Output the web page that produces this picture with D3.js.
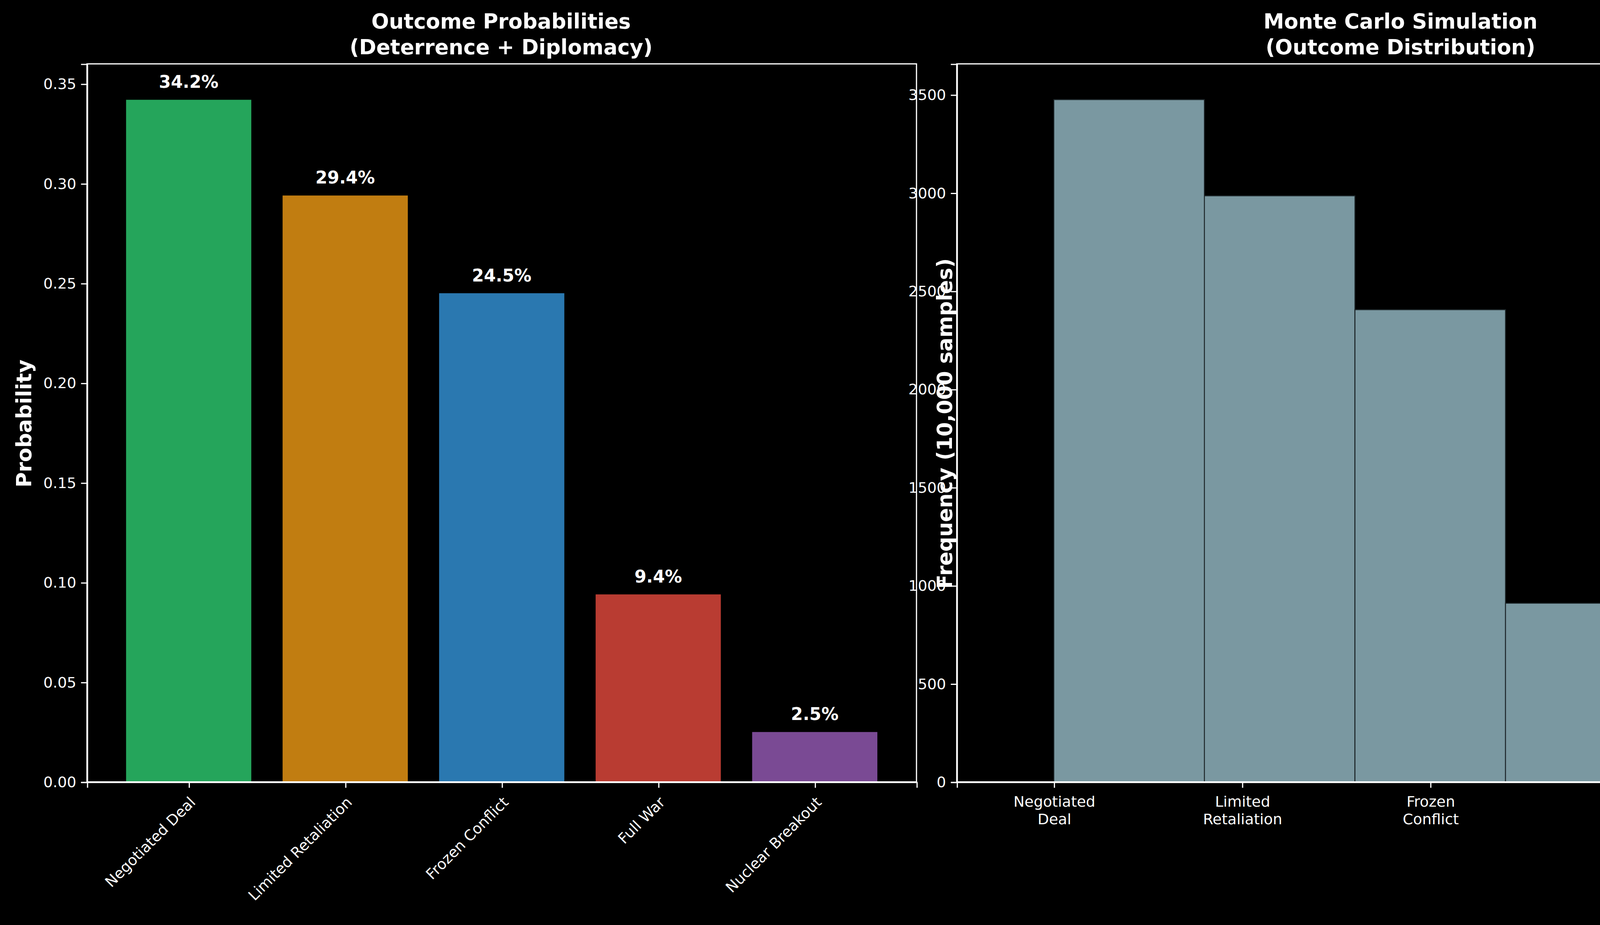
<!DOCTYPE html>
<html><head><meta charset="utf-8">
<script src="https://cdn.jsdelivr.net/npm/d3@7"></script>
<style>body{margin:0;background:#000;overflow:hidden}svg{display:block}text{font-family:"DejaVu Sans",sans-serif;fill:#fff}</style>
</head><body>
<script>
const outcomes = ["Negotiated Deal", "Limited Retaliation", "Frozen Conflict", "Full War", "Nuclear Breakout"];
const probs = [0.342, 0.294, 0.245, 0.094, 0.025];
const barColors = ["#25a55b", "#c17d11", "#2a78b0", "#b93c32", "#7a4a94"];
const counts = [3475, 2985, 2405, 910, 225];
const binEdges = [0, 0.8, 1.6, 2.4, 3.2, 4];
const probTicks = [0, 0.05, 0.10, 0.15, 0.20, 0.25, 0.30, 0.35];
const freqTicks = [0, 500, 1000, 1500, 2000, 2500, 3000, 3500];

const svg = d3.select("body").append("svg")
  .attr("width", 4753).attr("height", 2369)
  .attr("viewBox", "0 0 1568 782");
svg.append("rect").attr("width", 1568).attr("height", 782).attr("fill", "#000");

const plotTop = 54, plotBottom = 661;
function styleAxis(g) {
  g.selectAll("path,line").attr("stroke", "#fff");
  g.selectAll("text").attr("font-size", 12.5).attr("fill", "#fff").attr("font-family", "DejaVu Sans");
}

// ---- left: probabilities
const x1 = d3.scaleLinear().domain([-0.65, 4.65]).range([73, 774]);
const y1 = d3.scaleLinear().domain([0, 0.36]).range([plotBottom, plotTop]);
const L = svg.append("g");
L.selectAll("rect.bar").data(probs).join("rect")
  .attr("x", (d, i) => x1(i - 0.4)).attr("width", x1(0.8) - x1(0))
  .attr("y", d => y1(d)).attr("height", d => y1(0) - y1(d))
  .attr("fill", (d, i) => barColors[i]);
L.selectAll("text.val").data(probs).join("text")
  .attr("x", (d, i) => x1(i)).attr("y", d => y1(d) - 10)
  .attr("text-anchor", "middle").attr("font-size", 14.5).attr("font-weight", "bold")
  .text(d => (d * 100).toFixed(1) + "%");
const ly = L.append("g").attr("transform", "translate(73,0)")
  .call(d3.axisLeft(y1).tickValues(probTicks).tickFormat(d3.format(".2f")).tickSize(5).tickPadding(4));
styleAxis(ly);
const lx = L.append("g").attr("transform", `translate(0,${plotBottom})`)
  .call(d3.axisBottom(x1).tickValues(d3.range(5)).tickFormat(i => outcomes[i]).tickSize(5));
styleAxis(lx);
lx.selectAll("text").attr("text-anchor", "end").attr("dy", null).attr("y", 0)
  .attr("transform", "translate(6,18) rotate(-45)");
L.append("rect").attr("x", 73).attr("y", plotTop).attr("width", 701).attr("height", plotBottom - plotTop)
  .attr("fill", "none").attr("stroke", "#fff").attr("stroke-width", 1);
L.append("text").attr("x", 423).attr("y", 24).attr("text-anchor", "middle")
  .attr("font-size", 17.5).attr("font-weight", "bold").text("Outcome Probabilities");
L.append("text").attr("x", 423).attr("y", 46).attr("text-anchor", "middle")
  .attr("font-size", 17.5).attr("font-weight", "bold").text("(Deterrence + Diplomacy)");
L.append("text").attr("transform", "translate(26,358) rotate(-90)").attr("text-anchor", "middle")
  .attr("font-size", 17.5).attr("font-weight", "bold").text("Probability");

// ---- right: histogram
const x2 = d3.scaleLinear().domain([-0.516, 4.2]).range([808, 1558]);
const y2 = d3.scaleLinear().domain([0, 3657]).range([plotBottom, plotTop]);
const R = svg.append("g");
R.selectAll("rect.bin").data(counts).join("rect")
  .attr("x", (d, i) => x2(binEdges[i])).attr("width", (d, i) => x2(binEdges[i + 1]) - x2(binEdges[i]))
  .attr("y", d => y2(d)).attr("height", d => y2(0) - y2(d))
  .attr("fill", "#7a98a1").attr("stroke", "#1c2528").attr("stroke-width", 0.8);
const ry = R.append("g").attr("transform", "translate(808,0)")
  .call(d3.axisLeft(y2).tickValues(freqTicks).tickFormat(d3.format("d")).tickSize(5).tickPadding(4));
styleAxis(ry);
const rx = R.append("g").attr("transform", `translate(0,${plotBottom})`)
  .call(d3.axisBottom(x2).tickValues(d3.range(5)).tickFormat("").tickSize(5));
styleAxis(rx);
rx.selectAll(".tick").each(function(i) {
  const parts = outcomes[i].split(" ");
  const t = d3.select(this).append("text").attr("text-anchor", "middle").attr("font-size", 12.5)
    .attr("fill", "#fff").attr("y", 21);
  parts.forEach((p, k) => t.append("tspan").attr("x", 0).attr("dy", k ? 15 : 0).text(p));
});
R.append("rect").attr("x", 808).attr("y", plotTop).attr("width", 750).attr("height", plotBottom - plotTop)
  .attr("fill", "none").attr("stroke", "#fff").attr("stroke-width", 1);
R.append("text").attr("x", 1183).attr("y", 24).attr("text-anchor", "middle")
  .attr("font-size", 17.5).attr("font-weight", "bold").text("Monte Carlo Simulation");
R.append("text").attr("x", 1183).attr("y", 46).attr("text-anchor", "middle")
  .attr("font-size", 17.5).attr("font-weight", "bold").text("(Outcome Distribution)");
R.append("text").attr("transform", "translate(804,358) rotate(-90)").attr("text-anchor", "middle")
  .attr("font-size", 17.5).attr("font-weight", "bold").text("Frequency (10,000 samples)");
</script>
</body></html>
